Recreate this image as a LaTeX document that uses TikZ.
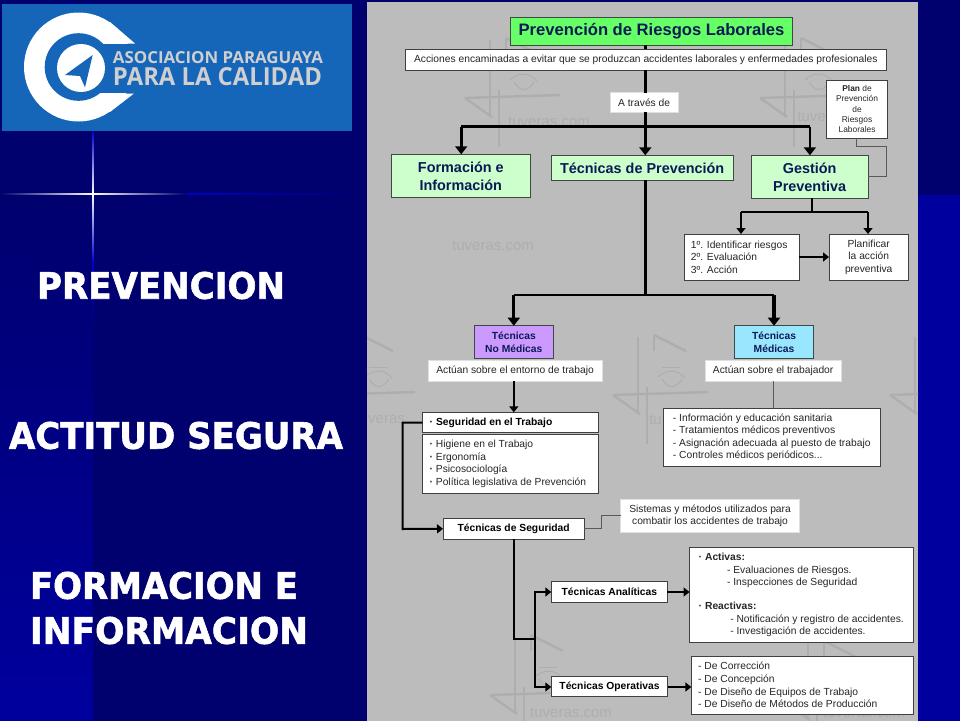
\documentclass[tikz,border=0pt]{standalone}
\usepackage{fontspec}
\usepackage{graphicx}
\usetikzlibrary{arrows.meta}
\setmainfont{Liberation Sans}
\newfontfamily\headfont{DejaVu Sans}[BoldFeatures={RawFeature={embolden=1.6}}]
\newfontfamily\logofont{Open Sans}
\definecolor{navy}{HTML}{00006E}
\definecolor{brightnavy}{HTML}{00009E}
\definecolor{panel}{HTML}{BCBCBC}
\definecolor{mark}{HTML}{AEAEAE}
\definecolor{logoblue}{HTML}{1565B8}
\definecolor{logotext}{HTML}{CFCFCF}
\definecolor{ink}{HTML}{262626}
\definecolor{headink}{HTML}{0B1A55}
\definecolor{edge}{HTML}{3C4A44}
\definecolor{titlegreen}{HTML}{66FF66}
\definecolor{palegreen}{HTML}{CCFFCC}
\definecolor{lilac}{HTML}{CC99FF}
\definecolor{skyfill}{HTML}{99E6FF}
\newcommand{\bx}[7]{\node[#2, minimum width={(#5-#3)*1pt}, minimum height={(#6-#4)*1pt}] (#1) at ({(#3+#5)/2},{(#4+#6)/2}) {#7};}
\newcommand{\fitx}[7]{\pgfmathsetmacro{\fitw}{#4-#2}\pgfmathsetmacro{\fith}{#5-#3}\node[inner sep=0pt,outer sep=0pt,text=#6] (#1) at ({(#2+#4)/2},{(#3+#5)/2}) {\resizebox{\fitw pt}{\fith pt}{#7}};}
\newcommand{\bul}{\makebox[6.4pt][l]{\textbf{·}}}
\tikzset{
  x=1pt,y=-1pt,
  bodybox/.style={draw=black!75,line width=.8pt,fill=white,inner sep=0pt,outer sep=0pt,text=ink,align=center,font=\fontsize{10.27}{12.55}\selectfont},
  softbox/.style={bodybox,draw=black!12},
  leftbox/.style={bodybox,align=left},
  keybox/.style={bodybox,font=\fontsize{10.3}{12.55}\selectfont\bfseries,text=black},
  greenbox/.style={draw=edge,line width=.8pt,fill=#1,inner sep=0pt,outer sep=0pt,align=center,text=headink,font=\fontsize{14.4}{18}\selectfont\bfseries},
  medbox/.style={draw=edge,line width=.8pt,fill=#1,inner sep=0pt,outer sep=0pt,align=center,text=headink,font=\fontsize{10.3}{12.55}\selectfont\bfseries},
  heavy/.style={draw=black,line width=2.6pt,-{Triangle[width=12pt,length=8pt]}},
  heavyline/.style={draw=black,line width=2.6pt},
  medium/.style={draw=black,line width=2pt,-{Triangle[width=9pt,length=6pt]}},
  mediumline/.style={draw=black,line width=2pt},
  thin link/.style={draw=black!65,line width=1pt},
  wm/.style={draw=mark,line width=2.4pt},
  wmtext/.style={text=mark,font=\fontsize{15}{15}\selectfont,inner sep=0pt},
  pics/wmark/.style={code={
    \draw[wm] (0,0) -- (0,77);
    \draw[wm] (9,50) -- (9,107);
    \draw[wm] (-25,58) -- (2,77);
    \draw[wm] (-25,58) -- (70,55);
    \draw[wm] (16,-2) -- (16,14);
    \draw[wm] (16,-2) -- (48,14);
    \draw[draw=mark,line width=1pt] (20,40) .. controls (28,32) and (40,32) .. (47,41);
    \draw[draw=mark,line width=1pt] (24,42) .. controls (30,52) and (38,52) .. (44,42);
    \draw[draw=mark,line width=1pt] (24,30) -- (42,30);
  }}
}
\begin{document}
\begin{tikzpicture}
\useasboundingbox (0,0) rectangle (960,720);
% background
\fill[navy] (0,0) rectangle (960,724);
\fill[brightnavy] (918,195) rectangle (960,724);
\shade[top color=navy,bottom color=brightnavy] (0,195) rectangle (93,724);
% sparkle
\shade[left color=navy,right color=navy,middle color=blue!60!navy] (0,193.6) rectangle (367,194.6);
\shade[left color=navy,right color=navy,middle color=white] (0,193.3) rectangle (186,194.9);
\shade[top color=blue!70!navy,bottom color=white] (92.3,131) rectangle (93.7,194);
\shade[top color=white,bottom color=blue!70!navy] (92.3,194) rectangle (93.7,262);
\shade[top color=blue!70!navy,bottom color=navy] (92.3,262) rectangle (93.7,330);
% logo
\fill[logoblue] (2,4) rectangle (352,131);
\fill[white] (78.5,67) circle[radius=54.5];
\fill[white] (110,22) -- (135,43.5) -- (100,43.5) -- cycle;
\fill[white] (110,112) -- (134,93.5) -- (100,93.5) -- cycle;
\fill[logoblue] (78.5,67) circle[radius=33.8];
\fill[logoblue] (80,43.5) rectangle (137,93.3);
\fill[white] (81,68) circle[radius=24];
\fill[logoblue] (92.7,55) -- (65,75) -- (80,76) -- (85,87.3) -- cycle;
\fitx{logoa}{113}{52}{323}{64}{logotext}{\logofont\bfseries ASOCIACION PARAGUAYA}
\fitx{logob}{113}{68}{322}{86}{logotext}{\logofont\bfseries PARA LA CALIDAD}
% side headings
\fitx{hprev}{37}{272}{285}{299}{white}{\headfont\bfseries PREVENCION}
\fitx{hact}{9}{422}{343}{449}{white}{\headfont\bfseries ACTITUD SEGURA}
\fitx{hform}{30}{572}{298}{599}{white}{\headfont\bfseries FORMACION E}
\fitx{hinfo}{30}{617}{308}{644}{white}{\headfont\bfseries INFORMACION}
% panel
\fill[panel] (367,2) rectangle (918,724);
\begin{scope}
\clip (367,2) rectangle (918,724);
\pic at (490,40) {wmark};
\pic at (785,40) {wmark};
\pic at (345,337) {wmark};
\pic at (638,337) {wmark};
\pic at (915,337) {wmark};
\pic at (515,637) {wmark};
\pic at (808,643) {wmark};
\node[wmtext] (wa) at (549,122) {tuveras.com};
\node[wmtext] (wb) at (493,246) {tuveras.com};
\node[wmtext,anchor=east] (wc) at (826,117) {tuve};
\node[wmtext,anchor=west] (wd) at (368,420) {veras};
\node[wmtext,anchor=east] (we) at (662,420) {tu};
\node[wmtext] (wf) at (571,713) {tuveras.com};
\node[wmtext] (wg) at (864,713) {tuveras.com};
\end{scope}
% junction coordinates
\coordinate (busa) at (645.3,126.7);
\coordinate (busaL) at (461.2,126.7);
\coordinate (busaR) at (809.9,126.7);
\coordinate (busb) at (645.3,295);
\coordinate (busbL) at (513.8,295);
\coordinate (busbR) at (774,295);
\coordinate (busc) at (811.6,212);
\coordinate (buscL) at (741,212);
\coordinate (buscR) at (868,212);
\coordinate (plana) at (856.8,146.7);
\coordinate (planb) at (886.7,146.7);
\coordinate (planc) at (886.7,176.3);
\coordinate (segl) at (402.6,422.5);
\coordinate (segm) at (402.6,529);
\coordinate (tsa) at (513.8,638.7);
\coordinate (tsb) at (534.5,638.7);
\coordinate (tsc) at (534.5,592);
\coordinate (tsd) at (534.5,687);
\coordinate (sisa) at (601.5,528.7);
\coordinate (sisb) at (601.5,515.3);
% boxes
\bx{title}{greenbox=titlegreen,font=\fontsize{16.6}{18}\selectfont\bfseries}{510.3}{17.3}{792.7}{45.3}{Prevención de Riesgos Laborales}
\bx{acc}{bodybox}{405.4}{49.3}{886.3}{70}{Acciones encaminadas a evitar que se produzcan accidentes laborales y enfermedades profesionales}
\bx{atr}{softbox}{610.3}{92.7}{678}{112.3}{A través de}
\bx{plan}{bodybox,font=\fontsize{8.4}{10.2}\selectfont}{826.7}{80.3}{887.4}{138}{\textbf{Plan} de\\Prevención\\de\\Riesgos\\Laborales}
\bx{form}{greenbox=palegreen}{391}{154.3}{530.6}{197.7}{Formación e\\Información}
\bx{tprev}{greenbox=palegreen}{551.3}{155.3}{733}{180.3}{Técnicas de Prevención}
\bx{gest}{greenbox=palegreen}{751.3}{155.3}{868}{198.3}{Gestión\\Preventiva}
\bx{pasos}{leftbox}{684}{234}{799}{280}{1º. Identificar riesgos\hspace*{4.8pt}\\2º. Evaluación\\3º. Acción}
\bx{plani}{bodybox}{829}{234}{908.4}{280}{Planificar\\la acción\\preventiva}
\bx{nomed}{medbox=lilac}{474.2}{325.7}{553.4}{358.7}{Técnicas\\No Médicas}
\bx{med}{medbox=skyfill}{734.4}{325.7}{813.7}{358.7}{Técnicas\\Médicas}
\bx{act1}{softbox}{427.9}{360.7}{602.2}{381}{Actúan sobre el entorno de trabajo}
\bx{act2}{softbox}{705.3}{360.7}{841}{381}{Actúan sobre el trabajador}
\bx{seg}{leftbox,keybox,align=left}{422.3}{412.3}{598.7}{432.7}{\bul Seguridad en el Trabajo\hspace*{39pt}}
\bx{hig}{leftbox}{422.3}{434.7}{598.7}{493}{\bul Higiene en el Trabajo\\\bul Ergonomía\\\bul Psicosociología\\\bul Política legislativa de Prevención\hspace*{5.4pt}}
\bx{info}{leftbox}{663.2}{408.3}{880.3}{466.3}{- Información y educación sanitaria\\- Tratamientos médicos preventivos\\- Asignación adecuada al puesto de trabajo\hspace*{3.3pt}\\- Controles médicos periódicos...}
\bx{tseg}{keybox}{443}{518.3}{584.3}{539.3}{Técnicas de Seguridad}
\bx{sis}{softbox}{620.8}{499}{799.3}{532.3}{Sistemas y métodos utilizados para\\combatir los accidentes de trabajo}
\bx{tana}{keybox}{551.3}{581.7}{667.4}{602.3}{Técnicas Analíticas}
\bx{tope}{keybox}{551.3}{676.3}{667.8}{696.7}{Técnicas Operativas}
\bx{activ}{leftbox}{689.5}{547.3}{913}{642.7}{\bul\textbf{Activas:}\\\hspace*{28.4pt}- Evaluaciones de Riesgos.\\\hspace*{28.4pt}- Inspecciones de Seguridad\\[11.4pt]\bul\textbf{Reactivas:}\\\hspace*{31.6pt}- Notificación y registro de accidentes.\hspace*{3.9pt}\\\hspace*{31.6pt}- Investigación de accidentes.}
\bx{corr}{leftbox}{691.3}{656}{913}{714}{- De Corrección\\- De Concepción\\- De Diseño de Equipos de Trabajo\\- De Diseño de Métodos de Producción\hspace*{28.8pt}}
% connectors
\draw[heavyline] (busa |- title.south) -- (busa |- acc.north);
\draw[heavyline] (busa |- acc.south) -- (busa |- atr.north);
\draw[heavyline] (busa |- atr.south) -- (busa);
\draw[heavyline] (busaL) -- (busaR);
\draw[heavy] (busa) -- (busa |- tprev.north);
\draw[heavy] (busaL) -- (busaL |- form.north);
\draw[heavy] (busaR) -- (busaR |- gest.north);
\draw[thin link] (plana |- plan.south) -- (plana) -- (planb) -- (planc) -- (planc -| gest.east);
\draw[mediumline] (busc |- gest.south) -- (busc);
\draw[mediumline] (buscL) -- (buscR);
\draw[medium] (buscL) -- (buscL |- pasos.north);
\draw[medium] (buscR) -- (buscR |- plani.north);
\draw[medium] (pasos.east) -- (plani.west);
\draw[heavyline] (busb |- tprev.south) -- (busb);
\draw[heavyline] (busbL) -- (busbR);
\draw[heavy,line width=3.2pt] (busbL) -- (busbL |- nomed.north);
\draw[heavy,line width=3.2pt] (busbR) -- (busbR |- med.north);
\draw[medium] (busbL |- act1.south) -- (busbL |- seg.north);
\draw[thin link] (act2.south) -- (act2.south |- info.north);
\draw[medium] (seg.west) -- (segl) -- (segm) -- (tseg.west);
\draw[mediumline] (tsa |- tseg.south) -- (tsa) -- (tsb);
\draw[medium] (tsb) -- (tsc) -- (tana.west |- tsc);
\draw[medium] (tsb) -- (tsd) -- (tope.west |- tsd);
\draw[thin link] (tseg.east |- sisa) -- (sisa) -- (sisb) -- (sis.west |- sisb);
\draw[medium] (tana.east |- tsc) -- (activ.west |- tsc);
\draw[medium] (tope.east |- tsd) -- (corr.west |- tsd);
\end{tikzpicture}
\end{document}
